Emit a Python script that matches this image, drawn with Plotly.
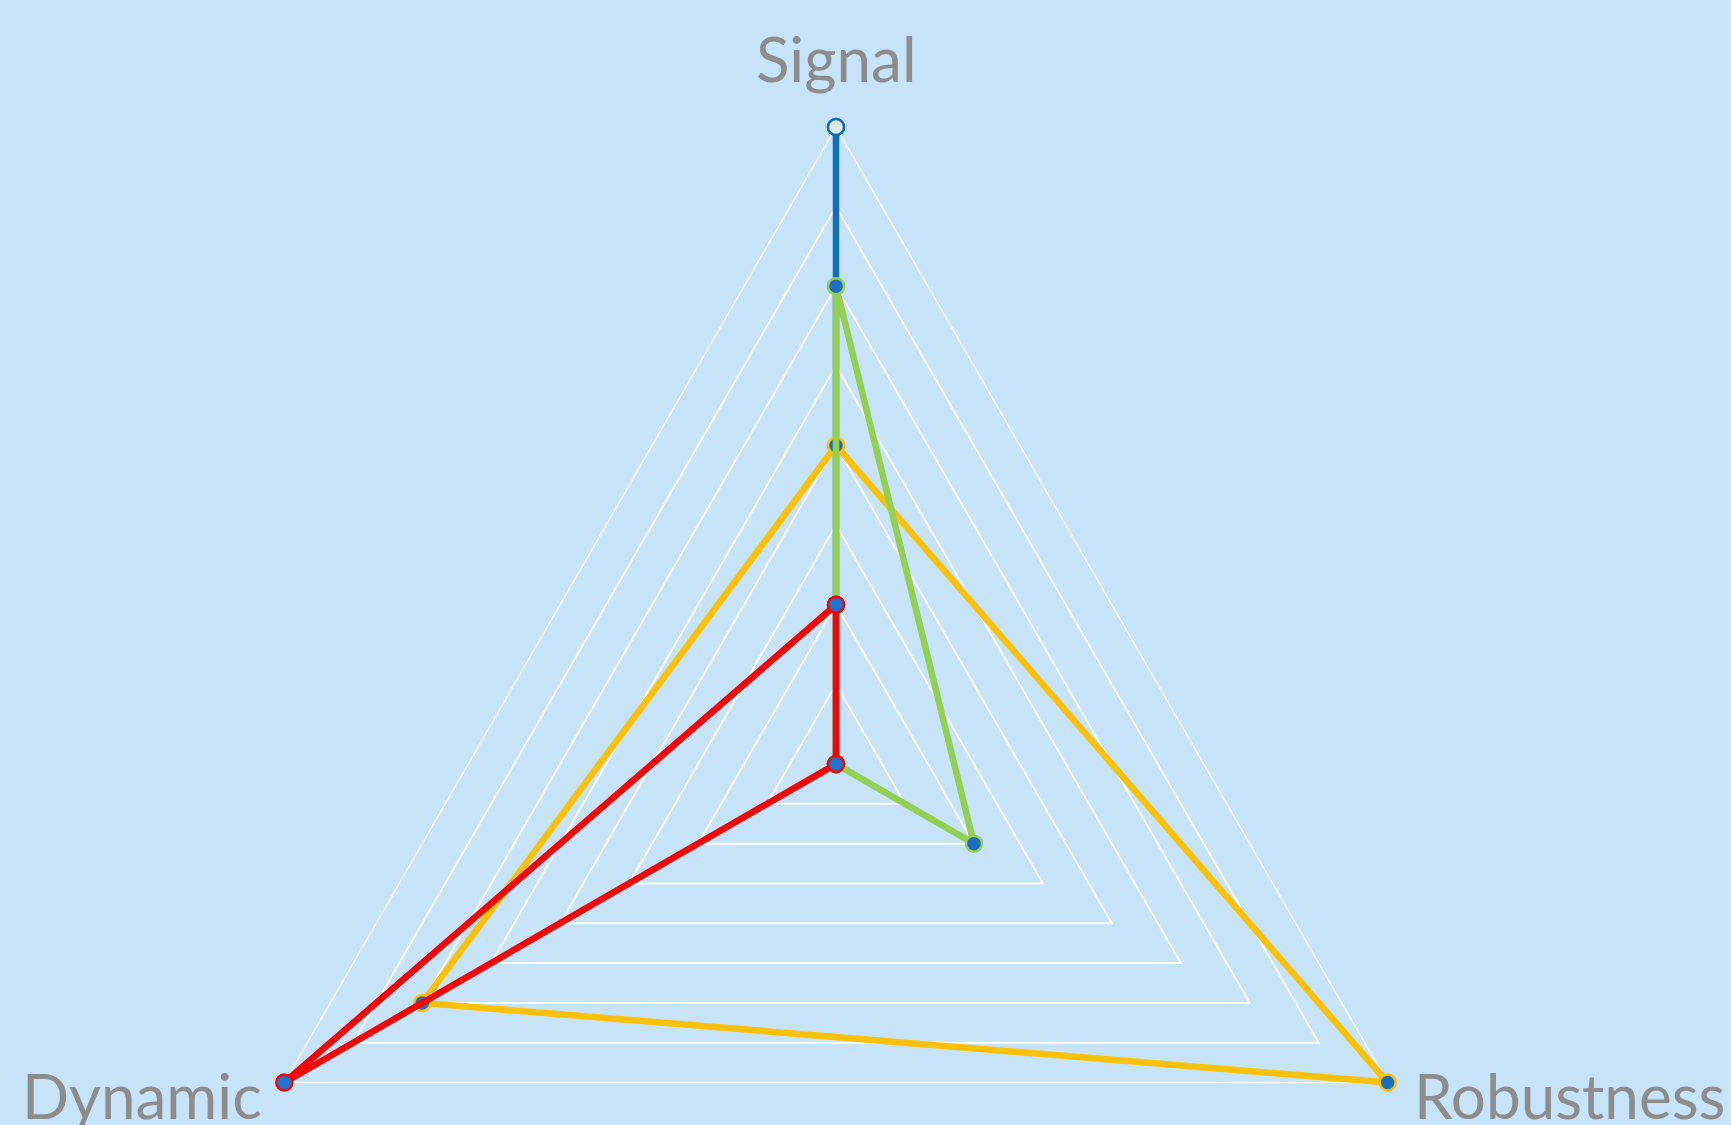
import plotly.graph_objects as go

categories = ["Signal", "Robustness", "Dynamic"]
series_names = ["Blue", "Yellow", "Green", "Red"]
series_values = {
    "Blue": [8, 0, 0],
    "Yellow": [4, 8, 6],
    "Green": [6, 2, 0],
    "Red": [2, 0, 8],
}
line_colors = {"Blue": "#0f6fbd", "Yellow": "#ffc000", "Green": "#92d050", "Red": "#ff0000"}
marker_fill = {"Blue": "#dfeaf5", "Yellow": "#1b6fc0", "Green": "#1b6fc0", "Red": "#1b75d0"}

fig = go.Figure()
for name in series_names:
    vals = series_values[name]
    fig.add_trace(go.Scatterpolar(
        r=vals + [vals[0]],
        theta=categories + [categories[0]],
        mode="lines+markers",
        line=dict(color=line_colors[name], width=6.5),
        marker=dict(size=16, color=marker_fill[name],
                    line=dict(color=line_colors[name], width=2.5)),
        name=name,
        showlegend=False,
        cliponaxis=False,
        subplot="polar2",
    ))

label_font = dict(family="Lato", size=62, color="#8c8c8c")
label_pos = {
    "Signal": dict(x=0.5, y=1.054, xanchor="center"),
    "Robustness": dict(x=0.8445, y=0.240, xanchor="left"),
    "Dynamic": dict(x=0.158, y=0.240, xanchor="right"),
}
for cat in categories:
    p = label_pos[cat]
    fig.add_annotation(text=cat, xref="paper", yref="paper", x=p["x"], y=p["y"],
                       xanchor=p["xanchor"], yanchor="middle", showarrow=False,
                       font=label_font)

bg = "#c5e3f9"
common_angular = dict(direction="clockwise", rotation=90, showgrid=False, ticks="",
                      showticklabels=False, categoryarray=categories, categoryorder="array")
fig.update_layout(
    width=1731,
    height=1420,
    margin=dict(l=0, r=59, t=127, b=19),
    paper_bgcolor=bg,
    plot_bgcolor=bg,
    polar=dict(
        bgcolor=bg,
        gridshape="linear",
        domain=dict(x=[0, 1], y=[0, 1]),
        radialaxis=dict(range=[0, 8], dtick=1, showticklabels=False, ticks="",
                        showline=False, gridcolor="white", gridwidth=1.5),
        angularaxis=dict(showline=True, linecolor="white", linewidth=1.5, **common_angular),
    ),
    polar2=dict(
        bgcolor="rgba(0,0,0,0)",
        gridshape="circular",
        domain=dict(x=[0, 1], y=[0, 1]),
        radialaxis=dict(range=[0, 8], showgrid=False, showticklabels=False, ticks="",
                        showline=False),
        angularaxis=dict(showline=False, **common_angular),
    ),
)
# keep the grid polar's angular categories aligned with the data polar
fig.add_trace(go.Scatterpolar(r=[None] * len(categories), theta=categories, mode="lines",
                              showlegend=False, hoverinfo="skip", subplot="polar"))

fig.write_html("out.html", config={"displayModeBar": False},
               post_script="document.body.style.margin='0';document.body.style.overflow='hidden';")
